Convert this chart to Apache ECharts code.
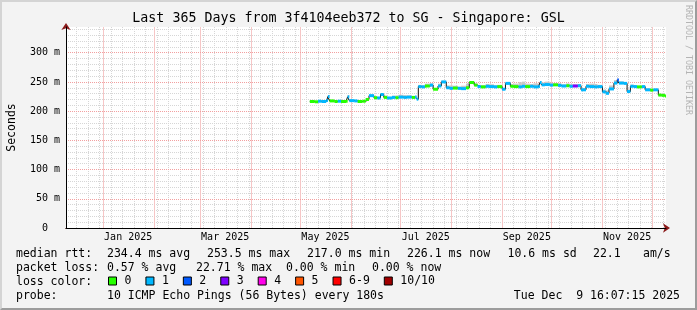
<!DOCTYPE html>
<html>
<head>
<meta charset="utf-8">
<script src="https://cdn.jsdelivr.net/npm/echarts@6/dist/echarts.min.js"></script>
<style>
  body { margin: 0; background: #f3f3f3; }
  #smoke { position: absolute; left: 0; top: 0; width: 697px; height: 310px; }
  #frame { position: absolute; left: 0; top: 0; width: 697px; height: 310px; box-sizing: border-box;
           border-left: 2px solid #d4d4d4; border-top: 2px solid #d4d4d4;
           border-right: 2px solid #9c9c9c; border-bottom: 2px solid #9c9c9c; pointer-events: none; }
</style>
</head>
<body>
<div id="smoke"></div>
<div id="frame"></div>
<script>
// samples of the median rtt (ms), loss count out of 10 and smoke spread above the median
var dates = ['2025-05-07','2025-05-10','2025-05-12','2025-05-14','2025-05-17','2025-05-18','2025-05-19','2025-05-22',
  '2025-05-24','2025-05-26','2025-05-29','2025-05-30','2025-05-31','2025-06-03','2025-06-05','2025-06-08',
  '2025-06-10','2025-06-12','2025-06-15','2025-06-17','2025-06-19','2025-06-21','2025-06-23','2025-06-26',
  '2025-06-28','2025-06-30','2025-07-03','2025-07-05','2025-07-08','2025-07-10','2025-07-11','2025-07-12',
  '2025-07-14','2025-07-16','2025-07-19','2025-07-21','2025-07-24','2025-07-26','2025-07-29','2025-07-31',
  '2025-08-02','2025-08-05','2025-08-07','2025-08-10','2025-08-12','2025-08-15','2025-08-17','2025-08-19',
  '2025-08-22','2025-08-24','2025-08-27','2025-08-29','2025-09-01','2025-09-03','2025-09-06','2025-09-08',
  '2025-09-11','2025-09-13','2025-09-15','2025-09-18','2025-09-20','2025-09-23','2025-09-24','2025-09-25',
  '2025-09-27','2025-09-30','2025-10-02','2025-10-05','2025-10-07','2025-10-10','2025-10-12','2025-10-14',
  '2025-10-17','2025-10-19','2025-10-22','2025-10-24','2025-10-27','2025-10-29','2025-11-01','2025-11-03',
  '2025-11-05','2025-11-08','2025-11-10','2025-11-11','2025-11-14','2025-11-16','2025-11-18','2025-11-20',
  '2025-11-22','2025-11-25','2025-11-27','2025-11-30','2025-12-02','2025-12-05','2025-12-07','2025-12-09'];
var median = [216.5,216.0,217.0,216.5,218.0,225.0,217.5,216.5,
  217.0,216.5,217.0,224.5,218.0,217.5,216.5,217.0,
  220.0,226.5,223.0,222.5,228.5,223.5,222.5,223.5,
  223.0,224.0,223.5,224.0,223.5,224.0,220.5,242.0,
  241.5,243.0,244.5,237.5,243.0,250.0,240.0,239.0,
  239.5,239.0,238.5,240.0,249.0,244.5,242.0,241.5,
  242.5,242.0,241.5,242.0,237.5,247.5,242.5,242.0,
  241.5,242.5,242.0,242.5,241.5,242.0,249.0,245.0,
  245.5,244.5,245.0,244.0,243.0,243.5,242.5,243.0,
  243.5,236.5,242.5,242.0,241.5,242.0,233.0,230.5,
  238.0,248.0,253.5,248.0,247.5,233.5,242.5,242.0,
  241.5,242.0,236.5,236.0,236.5,227.5,227.0,226.1];
var loss = [0,0,1,1,1,1,0,0, 1,0,0,1,1,1,0,0, 0,1,0,1,1,0,1,1, 0,1,1,1,0,1,1,1,
  1,0,1,0,1,1,1,1, 0,1,1,0,0,0,1,0, 1,1,1,0,1,1,0,0, 1,1,0,1,1,1,1,1,
  1,1,0,1,1,0,1,3, 1,1,1,1,1,1,1,1, 1,1,2,1,1,1,1,1, 0,1,1,0,1,0,0,0];
var smokeUp = [1,1,2,1,2,2,1,1, 1,1,2,3,2,1,1,1, 2,2,2,2,2,3,2,3, 4,4,4,3,2,2,1,3,
  3,4,3,2,4,2,4,5, 4,3,5,7,2,3,3,3, 4,4,3,3,2,2,4,5, 8,8,5,4,6,5,2,4,
  5,4,3,4,3,4,4,3, 3,3,4,5,5,3,4,5, 6,5,2,3,2,3,3,2, 2,2,2,1,1,1,1,1];

var lossLabels = ['0', '1', '2', '3', '4', '5', '6-9', '10/10'];
var lossColors = ['#26ff00', '#00b8ff', '#0059ff', '#7e00ff', '#ff00ea', '#ff5500', '#ff0000', '#a10000'];

var monthLabels = ['Jan 2025', 'Mar 2025', 'May 2025', 'Jul 2025', 'Sep 2025', 'Nov 2025'];
var monthLabelIdx = [0, 2, 4, 6, 8, 10];
var yTicks = [0, 50, 100, 150, 200, 250, 300];

var titleText = 'Last 365 Days from 3f4104eeb372 to SG - Singapore: GSL';
var rttRow = ['median rtt:', '234.4 ms avg', '253.5 ms max', '217.0 ms min', '226.1 ms now', '10.6 ms sd', '22.1', 'am/s'];
var rttX = [16, 107, 207, 307, 407, 507.5, 593, 643];
var lossRow = ['packet loss:', '0.57 % avg', '22.71 % max', '0.00 % min', '0.00 % now'];
var lossX = [16, 107, 196, 286, 372];
var probeText = '10 ICMP Echo Pings (56 Bytes) every 180s';
var stampText = 'Tue Dec  9 16:07:15 2025';

var tStart = Date.UTC(2024, 11, 9, 16, 7, 15);
var tEnd = Date.UTC(2025, 11, 9, 16, 7, 15);
var DAY = 86400000;
var yMax = 344;
var mono = 'DejaVu Sans Mono';

function lossIndex(l) {
  if (l <= 5) return l;
  return l < 10 ? 6 : 7;
}

var times = dates.map(function (d) { return Date.parse(d); });

// axis helpers: month starts, mid-month label spots, monday week lines
var monthStarts = [];
for (var m = 0; m < 12; m++) monthStarts.push(Date.UTC(2025, m, 1));
var labelAt = {};
var labelVals = monthLabelIdx.map(function (m, i) {
  var mid = (Date.UTC(2025, m, 1) + Date.UTC(2025, m + 1, 1)) / 2;
  labelAt[mid] = monthLabels[i];
  return mid;
});
var weeks = [];
for (var w = Date.UTC(2024, 11, 16); w < tEnd; w += 7 * DAY) weeks.push(w);
var yMinor = [];
for (var v = 10; v <= 340; v += 10) if (v % 50 !== 0) yMinor.push(v);

var lineData = times.map(function (t, i) { return [t, median[i]]; });
lineData.push([tEnd, median[median.length - 1]]);

var smokeData = times.map(function (t, i) {
  return [t, median[i], i + 1 < times.length ? times[i + 1] : tEnd, smokeUp[i]];
});

var chart = echarts.init(document.getElementById('smoke'));

var series = [
  {
    // pink month grid lines, one thin rect per month start
    name: 'months',
    type: 'custom',
    z: 2,
    silent: true,
    encode: { x: 0, y: [1, 2] },
    data: monthStarts.map(function (t) { return [t, 0, yMax]; }),
    renderItem: function (params, api) {
      var a = api.coord([api.value(0), api.value(1)]);
      var b = api.coord([api.value(0), api.value(2)]);
      var x = Math.round(a[0]);
      return { type: 'rect', shape: { x: x, y: b[1], width: 1, height: a[1] - b[1] },
               style: { fill: '#f6c6c6' } };
    }
  },
  {
    name: 'smoke',
    type: 'custom',
    z: 3,
    itemStyle: { color: '#c8c8c8' },
    encode: { x: [0, 2], y: 1 },
    data: smokeData,
    renderItem: function (params, api) {
      var a = api.coord([api.value(0), api.value(1)]);
      var b = api.coord([api.value(2), api.value(1) + api.value(3)]);
      return { type: 'rect', shape: { x: a[0], y: b[1], width: b[0] - a[0], height: a[1] - b[1] }, style: { fill: '#c8c8c8' } };
    }
  },
  {
    name: 'median',
    type: 'line',
    z: 4,
    step: 'end',
    symbol: 'none',
    lineStyle: { color: '#111', width: 1 },
    data: lineData
  }
];

lossLabels.forEach(function (lab, k) {
  var d = [];
  times.forEach(function (t, i) {
    if (lossIndex(loss[i]) === k) d.push([t, median[i], i + 1 < times.length ? times[i + 1] : tEnd]);
  });
  series.push({
    name: lab,
    type: 'custom',
    z: 5,
    itemStyle: { color: lossColors[k], borderColor: '#000', borderWidth: 1 },
    encode: { x: [0, 2], y: 1 },
    data: d,
    renderItem: function (params, api) {
      var a = api.coord([api.value(0), api.value(1)]);
      var b = api.coord([api.value(2), api.value(1)]);
      return { type: 'rect', shape: { x: a[0], y: a[1] - 1.5, width: b[0] - a[0], height: 3 }, style: { fill: lossColors[k] } };
    }
  });
});

var texts = [];
function addText(s, x, y, align) {
  texts.push({ type: 'text', x: x, y: y,
    style: { text: s, font: '11.5px "' + mono + '"', fill: '#000', align: align || 'left', verticalAlign: 'middle' } });
}
rttRow.forEach(function (s, i) { addText(s, rttX[i], 254); });
lossRow.forEach(function (s, i) { addText(s, lossX[i], 268); });
addText('loss color:', 16, 282);
addText('probe:', 16, 296);
addText(probeText, 107, 296);
addText(stampText, 680, 296, 'right');
texts.push({ type: 'text', x: 688, y: 60, rotation: -Math.PI / 2,
  style: { text: 'RRDTOOL / TOBI OETIKER', font: '8.3px "' + mono + '"', fill: '#b4b4b4', align: 'center', verticalAlign: 'middle' } });

var option = {
  animation: false,
  backgroundColor: 'transparent',
  title: {
    text: titleText,
    left: 'center',
    top: 12,
    padding: 0,
    textStyle: { fontFamily: mono, fontSize: 13.3, fontWeight: 'normal', color: '#000' }
  },
  legend: {
    data: lossLabels,
    left: 108,
    top: 275,
    padding: 0,
    icon: 'rect',
    itemWidth: 8,
    itemHeight: 8,
    itemGap: 14,
    selectedMode: false,
    itemStyle: { borderColor: '#000', borderWidth: 1 },
    textStyle: { fontFamily: mono, fontSize: 11.5, color: '#000', padding: [0, 0, 0, 3] }
  },
  grid: { left: 66, right: 31, top: 27, bottom: 82, containLabel: false, outerBoundsMode: 'none',
          show: true, backgroundColor: '#ffffff', borderWidth: 0 },
  xAxis: [
    {
      type: 'value', min: tStart, max: tEnd, position: 'bottom', z: 3,
      axisLine: { lineStyle: { color: '#000', width: 1 } },
      axisTick: { show: false },
      splitLine: { show: false },
      axisLabel: {
        customValues: labelVals,
        margin: 4,
        fontFamily: mono, fontSize: 10, color: '#000',
        formatter: function (v) { return labelAt[v] || ''; }
      }
    },
    {
      type: 'value', min: tStart, max: tEnd, position: 'bottom', z: 0,
      axisLine: { show: false },
      axisTick: { show: false, customValues: weeks },
      axisLabel: { show: false },
      splitLine: { show: true, lineStyle: { color: '#d6d6d6', width: 1, type: [1, 1] } }
    },
    {
      type: 'value', min: tStart, max: tEnd, position: 'bottom', z: 1,
      axisLine: { show: true, symbol: ['none', 'arrow'], symbolSize: [7, 7], symbolOffset: [0, 4],
                  lineStyle: { color: '#8b1a1a', width: 1 } },
      axisTick: { show: false },
      axisLabel: { show: false },
      splitLine: { show: false }
    }
  ],
  yAxis: [
    {
      type: 'value', min: 0, max: yMax, position: 'left', z: 3,
      name: 'Seconds', nameLocation: 'middle', nameRotate: 90, nameGap: 48,
      nameTextStyle: { fontFamily: mono, fontSize: 11.5, color: '#000' },
      axisLine: { show: true, lineStyle: { color: '#000', width: 1 } },
      axisTick: { show: false, customValues: yTicks },
      splitLine: { show: true, lineStyle: { color: '#f2a0a0', width: 1, type: [1, 1] } },
      axisLabel: {
        customValues: yTicks,
        margin: 6,
        fontFamily: mono, fontSize: 10, color: '#000',
        formatter: function (v) { return v === 0 ? '0  ' : v + ' m'; }
      }
    },
    {
      type: 'value', min: 0, max: yMax, position: 'left', z: 0,
      axisLine: { show: false },
      axisTick: { show: false, customValues: yMinor },
      axisLabel: { show: false },
      splitLine: { show: true, lineStyle: { color: '#d6d6d6', width: 1, type: [1, 1] } }
    },
    {
      type: 'value', min: 0, max: yMax, position: 'left', z: 1,
      axisLine: { show: true, symbol: ['none', 'arrow'], symbolSize: [7, 7], symbolOffset: [0, 4],
                  lineStyle: { color: '#8b1a1a', width: 1 } },
      axisTick: { show: false },
      axisLabel: { show: false },
      splitLine: { show: false }
    }
  ],
  graphic: texts,
  series: series
};

chart.setOption(option);
</script>
</body>
</html>
